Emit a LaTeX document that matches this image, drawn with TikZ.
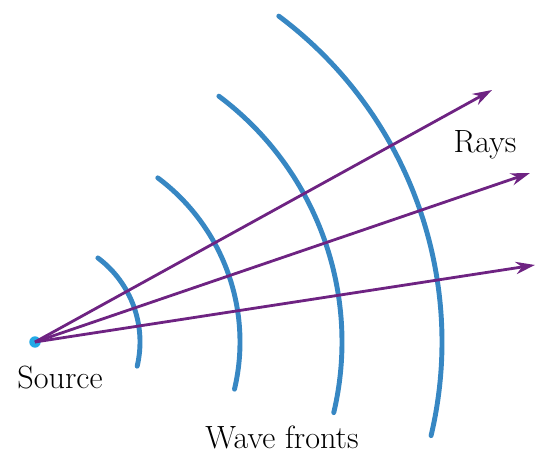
\documentclass[tikz,border=0pt]{standalone}
\usepackage{tikz}
\usetikzlibrary{arrows.meta}

\definecolor{frontblue}{RGB}{55,135,195}
\definecolor{raypurple}{RGB}{110,35,130}
\definecolor{sourcecyan}{RGB}{35,170,230}

\tikzset{
    label text/.style={font=\fontsize{18.3}{22}\selectfont}
}

\begin{document}
\begin{tikzpicture}[x=0.02cm, y=0.02cm, >={Stealth[length=11pt, width=7pt]}]

\useasboundingbox (0,0) rectangle (537,454);

% ---------------- SOURCE ----------------

\node[
    circle,
    fill=sourcecyan,
    inner sep=0pt,
    minimum size=6.5pt
] (source) at (35,112) {};

\node[label text] (sourcelabel) at (60,76) {Source};


% ---------------- WAVE FRONTS ----------------

\foreach \r in {105,205,307,407} {
    \draw[
        line width=2.8pt,
        frontblue,
        line cap=round
    ] (source.center) ++(-13.3:\r) arc[start angle=-13.3, end angle=53.2, radius=\r];
}

\node[label text] (frontlabel) at (282,17) {Wave fronts};


% ---------------- RAYS ----------------

\coordinate (rayA) at (492,364);
\coordinate (rayB) at (530,281);
\coordinate (rayC) at (535,189);

\foreach \e in {rayA,rayB,rayC} {
    \draw[
        ->,
        line width=1.6pt,
        raypurple
    ] (source.center) -- (\e);
}

\node[label text] (raylabel) at (485,309) {Rays};

\end{tikzpicture}
\end{document}
